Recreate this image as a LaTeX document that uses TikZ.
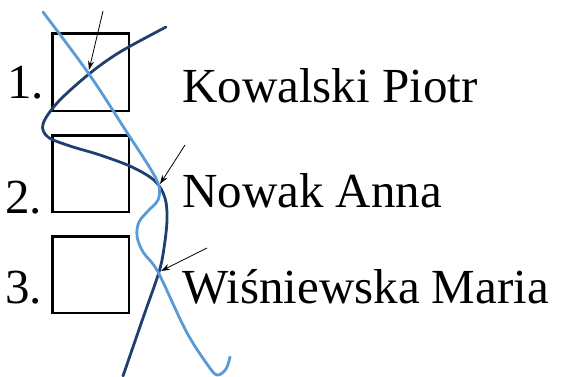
\documentclass[tikz,border=0pt]{standalone}
\usepackage{fontspec}
\setmainfont{Liberation Serif}
\usetikzlibrary{arrows.meta}
\definecolor{darkcurve}{HTML}{1F3F6E}
\definecolor{lightcurve}{HTML}{5B9BD5}
\begin{document}
\begin{tikzpicture}[x=1pt,y=-1pt,
  txt/.style={inner sep=0pt,font=\fontsize{49}{58}\selectfont},
  sq/.style={draw=black,line width=2.6pt},
  pointer/.style={draw=black,line width=0.8pt,-{Stealth[length=9pt,width=6pt]}},
  darkline/.style={draw=darkcurve,line width=2.8pt,line cap=round},
  lightline/.style={draw=lightcurve,line width=2.8pt,line cap=round}]
\useasboundingbox (0,0) rectangle (561,376);
% boxes
\draw[sq] (52.5,33.5) rectangle (129,111);
\draw[sq] (52.5,135.5) rectangle (129,212);
\draw[sq] (52.5,236.5) rectangle (129,313);
% numbers
\node[txt,anchor=base west] (n1) at (7,98) {1.};
\node[txt,anchor=base west] (n2) at (5,213) {2.};
\node[txt,anchor=base west] (n3) at (5,303) {3.};
% names
\node[txt,anchor=base west] (k) at (182,102) {Kowalski Piotr};
\node[txt,anchor=base west] (na) at (182,207) {Nowak Anna};
\node[txt,anchor=base west] (wm) at (182,303) {Wiśniewska Maria};
% dark curve
\draw[darkline] plot[smooth,tension=0.55] coordinates {(166,27) (120,52) (89,74) (58,102) (43,124) (48,137) (70,146) (100,155) (132,167) (155,181) (165,198) (167,220) (164,248) (159,272) (143,318) (123,376)};
% light curve
\draw[lightline] plot[smooth,tension=0.55] coordinates {(43,12) (89,74) (128,134) (150,168) (159,186) (158,200) (148,211) (139,222) (137,236) (143,252) (158,272) (186,331) (207,364) (217,375) (226,369) (230,357)};
% arrows
\coordinate (a1s) at (103,11);
\coordinate (a1e) at (89,70);
\coordinate (a2s) at (185,145);
\coordinate (a2e) at (160,184);
\coordinate (a3s) at (207,248);
\coordinate (a3e) at (161,271);
\draw[pointer] (a1s) -- (a1e);
\draw[pointer] (a2s) -- (a2e);
\draw[pointer] (a3s) -- (a3e);
\end{tikzpicture}
\end{document}
